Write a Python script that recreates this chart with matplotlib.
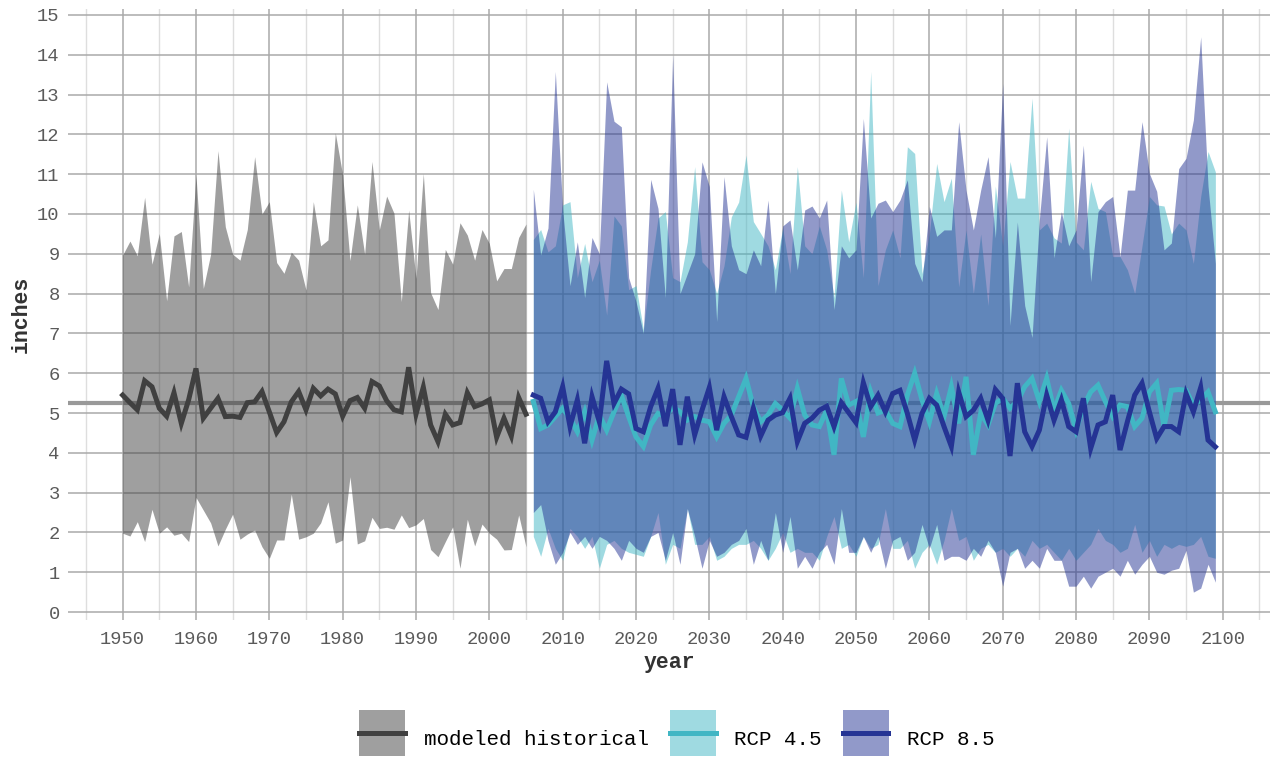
import numpy as np
import matplotlib
matplotlib.use("Agg")
import matplotlib.pyplot as plt
from matplotlib.colors import to_rgba
from matplotlib.lines import Line2D
from matplotlib.legend_handler import HandlerTuple

plt.rcParams['font.family'] = ['Liberation Mono', 'DejaVu Sans Mono']

hist_years = list(range(1950, 2006))
rcp_years = list(range(2006, 2100))

hist_upper = [8.97, 9.32, 8.95, 10.42, 8.74, 9.51, 7.82, 9.45, 9.56, 8.17,
              10.98, 8.13, 8.99, 11.59, 9.68, 8.99, 8.84, 9.61, 11.44, 10.0,
              10.31, 8.78, 8.51, 9.04, 8.84, 8.09, 10.31, 9.2, 9.35, 12.04,
              10.98, 8.83, 10.23, 8.99, 11.32, 9.6, 10.45, 10.02, 7.8, 10.1,
              8.38, 11.02, 8.02, 7.6, 9.11, 8.74, 9.78, 9.47, 8.84, 9.61,
              9.26, 8.32, 8.63, 8.63, 9.41, 9.75]
hist_lower = [1.98, 1.91, 2.27, 1.77, 2.58, 1.98, 2.14, 1.93, 1.98, 1.77,
              2.88, 2.56, 2.24, 1.66, 2.08, 2.46, 1.83, 1.96, 2.06, 1.64,
              1.35, 1.81, 1.81, 2.96, 1.83, 1.89, 1.98, 2.24, 2.77, 1.73,
              1.81, 3.4, 1.71, 1.79, 2.38, 2.1, 2.13, 2.08, 2.44, 2.12,
              2.19, 2.35, 1.57, 1.39, 1.77, 2.14, 1.1, 2.33, 1.66, 2.21,
              1.98, 1.83, 1.56, 1.57, 2.44, 1.64]
hist_mean = [5.45, 5.26, 5.08, 5.81, 5.66, 5.12, 4.92, 5.51, 4.74, 5.33,
             6.12, 4.87, 5.12, 5.37, 4.91, 4.92, 4.89, 5.26, 5.28, 5.54,
             5.03, 4.51, 4.78, 5.28, 5.54, 5.08, 5.62, 5.43, 5.6, 5.48,
             4.92, 5.31, 5.39, 5.12, 5.79, 5.68, 5.31, 5.08, 5.03, 6.15,
             4.97, 5.65, 4.7, 4.28, 4.97, 4.7, 4.76, 5.51, 5.16, 5.23,
             5.33, 4.39, 4.87, 4.42, 5.39, 4.97]

rcp45_upper = [9.36, 9.61, 9.05, 9.2, 10.23, 10.31, 8.4, 9.26, 8.3, 8.84,
               7.46, 9.95, 9.7, 8.1, 8.2, 7.1, 8.6, 9.9, 10.06, 8.4,
               8.3, 9.3, 11.19, 8.8, 8.6, 8.0, 8.7, 9.93, 10.3, 11.48,
               9.81, 9.51, 9.2, 8.6, 9.65, 8.5, 11.19, 9.2, 9.0, 9.7,
               9.1, 7.9, 10.6, 9.3, 10.3, 8.4, 13.58, 8.2, 9.1, 9.6,
               8.9, 11.69, 11.52, 8.5, 9.5, 11.27, 10.31, 10.9, 8.17, 9.6,
               8.0, 9.5, 7.7, 10.7, 9.2, 11.32, 10.4, 10.4, 12.91, 9.6,
               9.77, 9.4, 9.27, 12.16, 9.3, 9.1, 10.82, 10.14, 10.06, 8.93,
               8.93, 8.6, 8.0, 9.2, 10.44, 10.23, 10.2, 9.5, 9.77, 9.6,
               8.76, 10.44, 11.57, 11.06]
rcp85_upper = [10.62, 8.97, 9.65, 13.58, 10.1, 8.2, 9.3, 7.9, 9.41, 9.0,
               13.32, 12.33, 12.19, 8.4, 7.8, 7.0, 10.87, 10.14, 7.9, 14.0,
               8.0, 8.5, 9.0, 11.31, 10.69, 7.3, 10.94, 9.2, 8.6, 8.5,
               9.1, 8.7, 10.35, 8.0, 9.7, 9.85, 8.6, 10.1, 10.2, 9.9,
               10.35, 7.6, 9.2, 8.9, 9.1, 12.4, 9.9, 10.27, 10.35, 10.06,
               10.35, 10.86, 8.76, 8.3, 10.19, 9.44, 9.6, 9.6, 12.32, 10.6,
               9.6, 10.6, 11.44, 9.4, 13.28, 7.2, 9.8, 7.7, 6.9, 9.85,
               11.94, 8.9, 10.06, 9.2, 9.6, 11.73, 8.3, 10.06, 10.31, 10.44,
               8.93, 10.6, 10.6, 12.32, 11.02, 10.57, 9.1, 9.27, 11.14, 11.4,
               12.36, 14.45, 10.7, 8.76]
rcp45_lower = [1.9, 1.4, 2.1, 1.6, 1.3, 2.1, 1.9, 1.6, 1.9, 1.1,
               1.7, 1.8, 1.6, 1.5, 1.45, 1.4, 1.9, 2.5, 1.2, 1.7,
               1.6, 2.6, 1.7, 1.7, 1.9, 1.3, 1.4, 1.6, 1.7, 1.7,
               1.8, 1.6, 1.3, 1.6, 2.0, 1.5, 1.6, 1.5, 1.5, 1.3,
               1.9, 2.4, 1.6, 1.7, 1.4, 1.9, 1.6, 1.7, 2.6, 1.6,
               1.6, 1.8, 1.1, 1.5, 1.7, 1.2, 1.8, 2.6, 1.8, 1.9,
               1.3, 1.6, 1.7, 1.5, 1.6, 1.4, 1.6, 1.4, 1.8, 1.6,
               1.7, 1.5, 1.3, 1.6, 1.3, 1.5, 1.7, 2.1, 1.8, 1.7,
               1.5, 1.6, 2.2, 1.5, 1.8, 1.4, 1.7, 1.6, 1.7, 1.65,
               1.7, 1.9, 1.4, 1.35]
rcp85_lower = [2.5, 2.7, 1.8, 1.2, 1.5, 2.0, 1.7, 1.9, 1.6, 1.9,
               1.8, 1.6, 1.3, 1.8, 1.6, 1.5, 1.9, 2.0, 1.3, 2.0,
               1.2, 2.6, 1.9, 1.1, 1.8, 1.4, 1.5, 1.7, 1.8, 2.1,
               1.2, 1.8, 1.3, 2.5, 1.5, 2.4, 1.1, 1.4, 1.1, 1.5,
               1.7, 1.2, 2.6, 1.5, 1.5, 1.9, 1.5, 1.9, 1.1, 1.8,
               1.9, 1.3, 1.5, 2.2, 1.6, 2.2, 1.3, 1.4, 1.4, 1.3,
               1.6, 1.4, 1.8, 1.5, 0.65, 1.5, 1.6, 1.1, 1.3, 1.1,
               1.6, 1.3, 1.3, 0.65, 0.65, 0.9, 0.6, 0.9, 1.0, 1.1,
               0.9, 1.3, 0.95, 1.2, 1.4, 1.0, 0.95, 1.05, 1.1, 1.55,
               0.5, 0.6, 1.2, 0.75]
rcp45_mean = [5.29, 4.61, 4.7, 4.91, 5.12, 4.87, 4.53, 5.03, 4.32, 4.95,
              4.57, 5.03, 5.45, 4.91, 4.4, 4.16, 4.7, 4.99, 4.91, 5.16,
              5.03, 4.82, 4.91, 4.82, 4.78, 4.4, 4.74, 4.95, 5.41, 5.87,
              5.16, 4.78, 4.95, 5.24, 5.07, 4.87, 5.62, 4.95, 4.7, 4.66,
              5.07, 3.95, 5.87, 5.2, 5.29, 4.4, 5.53, 5.0, 5.07, 4.74,
              4.66, 5.45, 6.0, 5.33, 4.78, 5.49, 4.91, 5.66, 4.74, 5.91,
              3.95, 4.99, 4.7, 5.24, 5.37, 5.12, 5.29, 5.66, 5.87, 5.29,
              5.87, 5.07, 5.57, 5.24, 4.57, 5.16, 5.53, 5.7, 5.29, 4.91,
              5.2, 5.16, 4.66, 4.87, 5.53, 5.75, 4.66, 5.57, 5.59, 5.57,
              5.2, 5.33, 5.53, 5.03]
rcp85_mean = [5.45, 5.37, 4.78, 5.03, 5.66, 4.66, 5.33, 4.24, 5.41, 4.78,
              6.31, 5.24, 5.6, 5.48, 4.61, 4.53, 5.16, 5.62, 4.67, 5.6,
              4.2, 5.41, 4.45, 5.07, 5.64, 4.57, 5.41, 4.91, 4.45, 4.39,
              5.12, 4.42, 4.82, 4.95, 5.01, 5.37, 4.28, 4.74, 4.87, 5.07,
              5.17, 4.66, 5.26, 5.01, 4.76, 5.76, 5.16, 5.45, 5.03, 5.49,
              5.57, 4.99, 4.32, 4.99, 5.37, 5.2, 4.66, 4.16, 5.53, 4.91,
              5.07, 5.37, 4.82, 5.59, 5.37, 3.92, 5.75, 4.53, 4.16, 4.57,
              5.45, 4.82, 5.33, 4.66, 4.53, 5.37, 4.11, 4.7, 4.78, 5.45,
              4.07, 4.78, 5.45, 5.75, 5.03, 4.36, 4.66, 4.66, 4.53, 5.49,
              5.03, 5.64, 4.32, 4.15]

hist_ref = 5.25
series_names = ["modeled historical", "RCP 4.5", "RCP 8.5"]
line_colors = ["#404040", "#41b6c4", "#253494"]

fig = plt.figure(figsize=(12.74, 7.59), dpi=100)
ax = fig.add_axes([68 / 1274, 1 - 620 / 759, 1202 / 1274, 611 / 759])

ax.fill_between(hist_years, hist_lower, hist_upper, color=line_colors[0], alpha=0.5, lw=0, zorder=2)
ax.fill_between(rcp_years, rcp45_lower, rcp45_upper, color=line_colors[1], alpha=0.5, lw=0, zorder=2)
ax.fill_between(rcp_years, rcp85_lower, rcp85_upper, color=line_colors[2], alpha=0.5, lw=0, zorder=2)
ax.axhline(hist_ref, color="#999999", lw=3, zorder=1)
ax.plot(hist_years, hist_mean, color=line_colors[0], lw=3.6, zorder=3, solid_joinstyle='miter')
ax.plot(rcp_years, rcp45_mean, color=line_colors[1], lw=3.6, zorder=3, solid_joinstyle='miter')
ax.plot(rcp_years, rcp85_mean, color=line_colors[2], lw=3.6, zorder=4, solid_joinstyle='miter')

ax.set_xlim(1942.55, 2106.45)
ax.set_ylim(-0.2, 15.15)
ax.set_xticks(range(1950, 2101, 10))
ax.set_xticks(range(1945, 2106, 10), minor=True)
ax.set_yticks(range(0, 16))
ax.grid(which='major', color='#a9a9a9', lw=1.1, zorder=0)
ax.grid(which='minor', axis='x', color='#dedede', lw=1.0, zorder=0)
ax.set_axisbelow(True)
for s in ax.spines.values():
    s.set_visible(False)
ax.tick_params(which='both', length=0, labelsize=13.5, labelcolor='#5a5a5a')
ax.tick_params(axis='y', pad=6)
ax.tick_params(axis='x', pad=8)
ax.set_xlabel("year", fontsize=15.5, fontweight='bold', color='#333333', labelpad=3)
ax.set_ylabel("inches", fontsize=15.5, fontweight='bold', color='#333333', labelpad=4)

# legend keys: light square (marker) with the mean line across it
handles = []
for c in line_colors:
    box = Line2D([], [], linestyle='none', marker='s', markersize=33,
                 markerfacecolor=to_rgba(c, 0.5), markeredgewidth=0)
    ln = Line2D([], [], color=c, lw=3.6)
    handles.append((box, ln))
fig.legend(handles, series_names, loc='center', bbox_to_anchor=(677 / 1274, 1 - 738 / 759),
           ncol=3, frameon=False, fontsize=15, handlelength=2.2, handleheight=2.2,
           handletextpad=0.9, columnspacing=1.0, borderaxespad=0, numpoints=1,
           handler_map={tuple: HandlerTuple(ndivide=1, pad=0)})

fig.savefig("out.png", dpi=100)
